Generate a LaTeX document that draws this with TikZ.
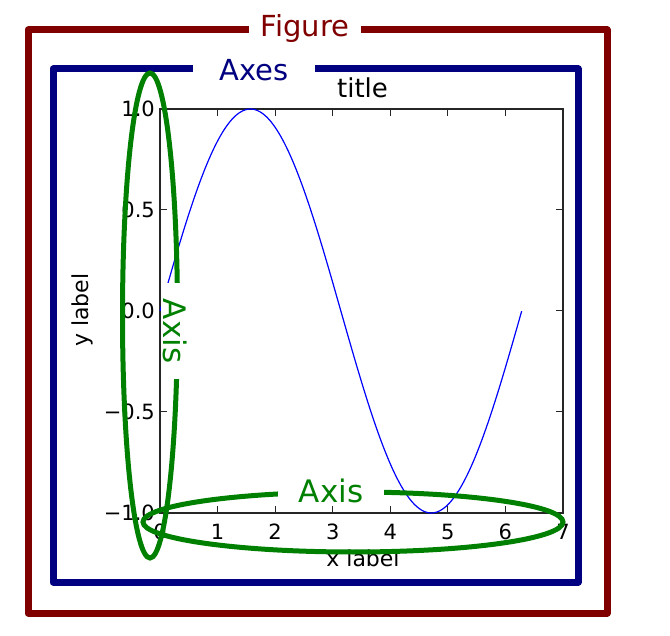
\documentclass[tikz,border=0pt]{standalone}
\usepackage{fontspec}
\setmainfont{DejaVu Sans}
\definecolor{figred}{RGB}{128,0,0}
\definecolor{axesblue}{RGB}{0,0,128}
\definecolor{axisgreen}{RGB}{0,128,0}
\definecolor{sineblue}{RGB}{0,0,255}

\begin{document}
\begin{tikzpicture}[x=1pt, y=-1pt,
    framebox/.style={line width=7pt, line join=round},
    gaplabel/.style={fill=white, inner ysep=2pt, inner xsep=#1},
    ticklbl/.style={inner sep=0pt, font=\fontsize{21pt}{25pt}\selectfont},
    axlbl/.style={inner sep=0pt, font=\fontsize{22pt}{26pt}\selectfont}]
    \useasboundingbox (0,0) rectangle (670,636);
    % outer frames
    \draw[framebox, figred] (28,30) rectangle (607,613);
    \draw[framebox, axesblue] (53,69) rectangle (578,582);
    \node[gaplabel=12pt, text=figred, font=\fontsize{29pt}{34pt}\selectfont] (figlabel) at (305,29) {Figure};
    \node[gaplabel=26pt, text=axesblue, font=\fontsize{29pt}{34pt}\selectfont] (axeslabel) at (254,70) {Axes};
    % plot area
    \draw[line width=1.2pt, black!85] (160,109) rectangle (563,513);
    \foreach \k in {1,...,6} {
        \draw[line width=1pt, black!85] ({160+57.57*\k},513) -- +(0,-7);
        \draw[line width=1pt, black!85] ({160+57.57*\k},109) -- +(0,7);
    }
    \foreach \yy in {210,311,412} {
        \draw[line width=1pt, black!85] (160,\yy) -- +(7,0);
        \draw[line width=1pt, black!85] (563,\yy) -- +(-7,0);
    }
    \foreach \k in {0,...,7} {
        \node[ticklbl, anchor=north] (xtick\k) at ({160+57.57*\k},523.5) {\k};
    }
    \foreach \yy/\lbl in {109/1.0,210/0.5,311/0.0,412/−0.5,513/−1.0} {
        \node[ticklbl, anchor=east] (ytick\yy) at (155,\yy) {\lbl};
    }
    \draw[sineblue, line width=1.2pt] plot[domain=0:6.2832, samples=120, smooth] ({160+57.57*\x},{311-202*sin(\x r)});
    \node[inner sep=0pt, font=\fontsize{26pt}{30pt}\selectfont] (title) at (362.5,88) {title};
    \node[axlbl] (xlab) at (363,558) {x label};
    \node[axlbl, rotate=90] (ylab) at (82,310) {y label};
    % axis ellipses
    \draw[axisgreen, line width=5pt] (150,315.5) ellipse [x radius=27.5pt, y radius=242.5pt];
    \draw[axisgreen, line width=5pt] (353,522) ellipse [x radius=210pt, y radius=30pt];
    \node[gaplabel=16pt, inner ysep=2.75pt, rotate=-90, text=axisgreen, font=\fontsize{31pt}{36pt}\selectfont] (yaxislabel) at (175.5,331) {Axis};
    \node[gaplabel=21pt, text=axisgreen, font=\fontsize{31pt}{36pt}\selectfont] (xaxislabel) at (331,491) {Axis};
\end{tikzpicture}
\end{document}
